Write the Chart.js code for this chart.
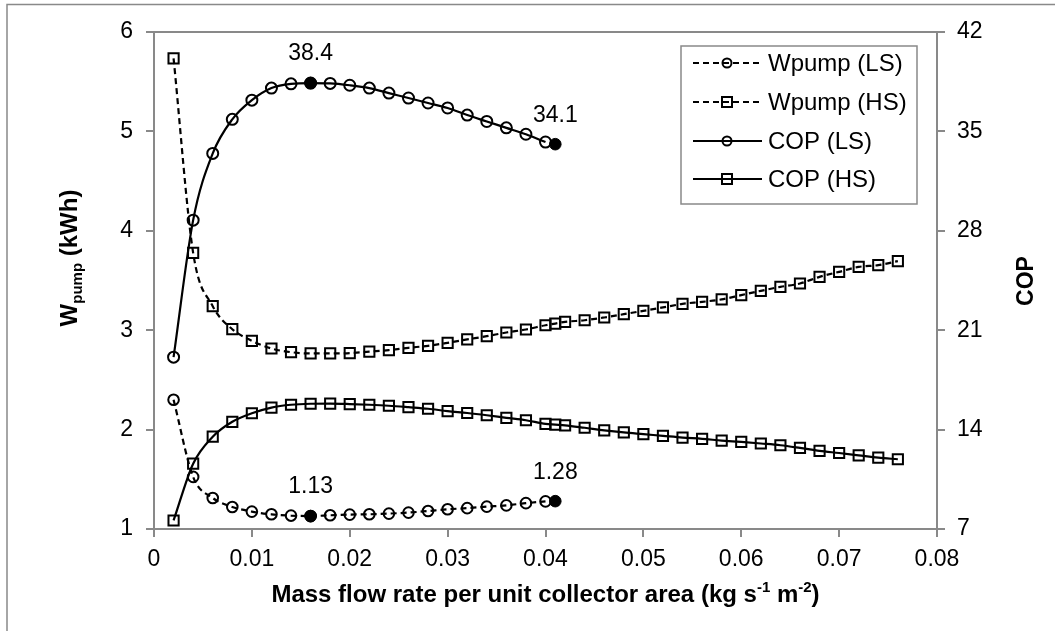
<!DOCTYPE html>
<html><head><meta charset="utf-8">
<script src="https://cdn.jsdelivr.net/npm/chart.js@4.4.1/dist/chart.umd.min.js"></script>
<style>html,body{margin:0;padding:0;background:#fff;overflow:hidden}canvas{display:block}</style>
</head><body>
<canvas id="c" width="1055" height="631"></canvas>
<script>
// ---- data ----
const xLS = [0.002,0.004,0.006,0.008,0.010,0.012,0.014,0.016,0.018,0.020,0.022,0.024,0.026,0.028,0.030,0.032,0.034,0.036,0.038,0.040];
const wpumpLS = [2.30,1.524,1.312,1.222,1.175,1.148,1.135,1.13,1.138,1.145,1.148,1.155,1.165,1.181,1.198,1.21,1.225,1.238,1.26,1.278];
const copLS = [19.1,28.75,33.45,35.85,37.2,38.05,38.35,38.4,38.38,38.25,38.05,37.7,37.35,37.0,36.65,36.15,35.7,35.25,34.8,34.25];
const xHS = [0.002,0.004,0.006,0.008,0.010,0.012,0.014,0.016,0.018,0.020,0.022,0.024,0.026,0.028,0.030,0.032,0.034,0.036,0.038,0.040,0.041,0.042,0.044,0.046,0.048,0.050,0.052,0.054,0.056,0.058,0.060,0.062,0.064,0.066,0.068,0.070,0.072,0.074,0.076];
const wpumpHS = [5.735,3.778,3.242,3.01,2.893,2.816,2.779,2.766,2.766,2.77,2.785,2.80,2.823,2.843,2.873,2.907,2.94,2.977,3.007,3.05,3.067,3.084,3.10,3.128,3.161,3.195,3.229,3.265,3.285,3.31,3.353,3.396,3.436,3.47,3.537,3.587,3.637,3.654,3.695];
const copHS = [7.6,11.6,13.5,14.55,15.15,15.55,15.75,15.82,15.83,15.8,15.75,15.68,15.58,15.47,15.3,15.17,15.01,14.83,14.66,14.4,14.35,14.3,14.13,13.95,13.8,13.68,13.56,13.44,13.35,13.23,13.13,13.02,12.9,12.71,12.5,12.35,12.19,12.03,11.91];
const markX = [0.016,0.041];
const markWpump = [1.13,1.28];
const markCOP = [38.4,34.1];
const markWpumpLabels = ['1.13','1.28'];
const markCOPLabels = ['38.4','34.1'];
const xTickLabels = ['0','0.01','0.02','0.03','0.04','0.05','0.06','0.07','0.08'];
const yLeftTickLabels = ['1','2','3','4','5','6'];
const yRightTickLabels = ['7','14','21','28','35','42'];
const seriesNames = ['Wpump (LS)','Wpump (HS)','COP (LS)','COP (HS)'];

const FONT = "'Liberation Sans', Arial, Helvetica, sans-serif";
const AXIS = '#898989';
const pts = (xs, ys) => xs.map((x, i) => ({x: x, y: ys[i]}));

const lineBase = {
  type: 'line', borderColor: '#000', borderWidth: 2.2, fill: false,
  pointBorderColor: '#000', pointBackgroundColor: 'rgba(0,0,0,0)', pointBorderWidth: 2,
  cubicInterpolationMode: 'monotone', showLine: true
};

const datasets = [
  {type:'line', label:'markW', data: pts(markX, markWpump), yAxisID:'y', showLine:false,
   pointStyle:'circle', pointRadius:5.8, pointBackgroundColor:'#000', pointBorderColor:'#000', pointBorderWidth:1, labels: markWpumpLabels},
  {type:'line', label:'markC', data: pts(markX, markCOP), yAxisID:'y1', showLine:false,
   pointStyle:'circle', pointRadius:5.8, pointBackgroundColor:'#000', pointBorderColor:'#000', pointBorderWidth:1, labels: markCOPLabels},
  Object.assign({}, lineBase, {label: seriesNames[0], data: pts(xLS, wpumpLS), yAxisID:'y', borderDash:[6,4], pointStyle:'circle', pointRadius:5.3}),
  Object.assign({}, lineBase, {label: seriesNames[1], data: pts(xHS, wpumpHS), yAxisID:'y', borderDash:[6,4], pointStyle:'rect', pointRadius:7.2}),
  Object.assign({}, lineBase, {label: seriesNames[2], data: pts(xLS, copLS), yAxisID:'y1', pointStyle:'circle', pointRadius:5.5}),
  Object.assign({}, lineBase, {label: seriesNames[3], data: pts(xHS, copHS), yAxisID:'y1', pointStyle:'rect', pointRadius:7.2})
];

function drawRich(ctx, parts, x, y, align) {
  let total = 0;
  parts.forEach(p => { ctx.font = 'bold ' + p.size + 'px ' + FONT; p.w = ctx.measureText(p.t).width; total += p.w; });
  let cx = align === 'center' ? x - total / 2 : x;
  ctx.textAlign = 'left'; ctx.textBaseline = 'alphabetic';
  parts.forEach(p => { ctx.font = 'bold ' + p.size + 'px ' + FONT; ctx.fillText(p.t, cx, y + (p.dy || 0)); cx += p.w; });
}

const deco = {
  id: 'deco',
  beforeDraw(chart) {
    const ctx = chart.ctx;
    ctx.save();
    ctx.fillStyle = '#fff';
    ctx.fillRect(0, 0, chart.width, chart.height);
    ctx.strokeStyle = AXIS; ctx.lineWidth = 1.5;
    ctx.strokeRect(7, 4.5, 1100, 700);
    const a = chart.chartArea;
    ctx.strokeStyle = AXIS; ctx.lineWidth = 2;
    ctx.beginPath(); ctx.moveTo(a.left, a.top); ctx.lineTo(a.right, a.top); ctx.stroke();
    ctx.restore();
  },
  afterDraw(chart) {
    const ctx = chart.ctx;
    const a = chart.chartArea;
    ctx.save();
    ctx.fillStyle = '#000';
    // x title
    drawRich(ctx, [
      {t:'Mass flow rate per unit collector area (kg s', size:24},
      {t:'-1', size:15, dy:-10},
      {t:' m', size:24},
      {t:'-2', size:15, dy:-10},
      {t:')', size:24}
    ], (a.left + a.right) / 2, 602, 'center');
    // left y title
    ctx.save();
    ctx.translate(77, 258);
    ctx.rotate(-Math.PI / 2);
    drawRich(ctx, [
      {t:'W', size:24},
      {t:'pump', size:15, dy:5},
      {t:' (kWh)', size:24}
    ], 0, 0, 'center');
    ctx.restore();
    // right y title
    ctx.save();
    ctx.translate(1033, 281);
    ctx.rotate(-Math.PI / 2);
    drawRich(ctx, [{t:'COP', size:23}], 0, 0, 'center');
    ctx.restore();

    // data labels for marked points
    ctx.font = '23px ' + FONT;
    ctx.textAlign = 'center'; ctx.textBaseline = 'middle';
    [0, 1].forEach(di => {
      const meta = chart.getDatasetMeta(di);
      const labs = chart.data.datasets[di].labels;
      meta.data.forEach((el, i) => { ctx.fillText(labs[i], el.x, el.y - 29); });
    });

    // legend
    const lx = 681, ly = 46, lw = 236, lh = 158;
    ctx.fillStyle = '#fff';
    ctx.fillRect(lx, ly, lw, lh);
    ctx.strokeStyle = AXIS; ctx.lineWidth = 1.5;
    ctx.strokeRect(lx, ly, lw, lh);
    const rows = [63, 102, 141, 179];
    const styles = [
      {dash:[6,4], shape:'circle'}, {dash:[6,4], shape:'rect'},
      {dash:[], shape:'circle'}, {dash:[], shape:'rect'}
    ];
    rows.forEach((ry, i) => {
      const s = styles[i];
      ctx.strokeStyle = '#000'; ctx.lineWidth = 2;
      ctx.setLineDash(s.dash);
      ctx.beginPath(); ctx.moveTo(693, ry); ctx.lineTo(762, ry); ctx.stroke();
      ctx.setLineDash([]);
      ctx.lineWidth = 2;
      if (s.shape === 'circle') {
        ctx.beginPath(); ctx.arc(727, ry, 4.5, 0, Math.PI * 2); ctx.stroke();
      } else {
        ctx.strokeRect(722, ry - 5, 10, 10);
      }
      ctx.fillStyle = '#000';
      ctx.font = '24px ' + FONT;
      ctx.textAlign = 'left'; ctx.textBaseline = 'middle';
      ctx.fillText(seriesNames[i], 768, ry + 1);
    });
    ctx.restore();
  }
};

const tickFont = {family: FONT, size: 23};
new Chart(document.getElementById('c'), {
  type: 'line',
  data: {datasets: datasets},
  options: {
    responsive: false, animation: false, devicePixelRatio: 1,
    layout: {padding: {top: 32, left: 0, right: 0, bottom: 0}},
    plugins: {legend: {display: false}, tooltip: {enabled: false}},
    scales: {
      x: {
        type: 'linear', position: 'bottom', min: 0, max: 0.08,
        ticks: {stepSize: 0.01, autoSkip: false, maxRotation: 0, font: tickFont, color: '#000', padding: 9,
                callback: (v, i) => xTickLabels[i]},
        grid: {display: true, drawOnChartArea: false, drawTicks: true, tickLength: 8, color: AXIS, lineWidth: 2},
        border: {display: true, color: AXIS, width: 2},
        afterFit: s => { s.height = 102; }
      },
      y: {
        type: 'linear', position: 'left', min: 1, max: 6,
        ticks: {stepSize: 1, font: tickFont, color: '#000', padding: 13, callback: (v, i) => yLeftTickLabels[i]},
        grid: {display: true, drawOnChartArea: false, drawTicks: true, tickLength: 8, color: AXIS, lineWidth: 2},
        border: {display: true, color: AXIS, width: 2},
        afterFit: s => { s.width = 154; }
      },
      y1: {
        type: 'linear', position: 'right', min: 7, max: 42,
        ticks: {stepSize: 7, font: tickFont, color: '#000', padding: 12, callback: (v, i) => yRightTickLabels[i]},
        grid: {display: true, drawOnChartArea: false, drawTicks: true, tickLength: 8, color: AXIS, lineWidth: 2},
        border: {display: true, color: AXIS, width: 2},
        afterFit: s => { s.width = 118; }
      }
    }
  },
  plugins: [deco]
});
</script>
</body></html>
